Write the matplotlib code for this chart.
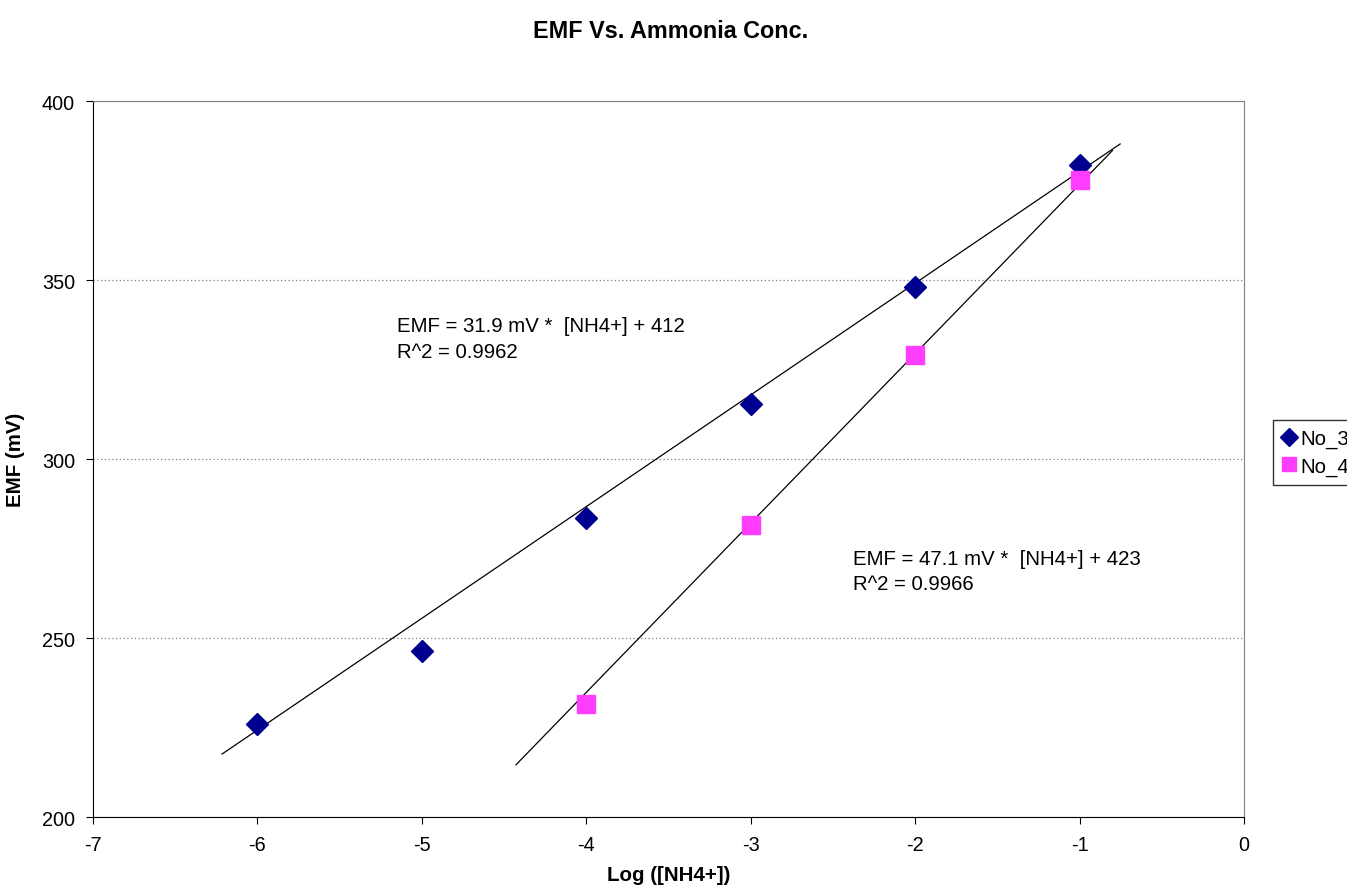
import numpy as np
import matplotlib.pyplot as plt

plt.rcParams['font.family'] = ['Liberation Sans', 'DejaVu Sans']
plt.rcParams['axes.unicode_minus'] = False

# Data ----------
log_conc_3 = [-6, -5, -4, -3, -2, -1]
emf_3 = [226, 246.5, 283.5, 315.5, 348, 382]

log_conc_4 = [-4, -3, -2, -1]
emf_4 = [231.5, 281.5, 329, 378]

# trendlines as drawn in the chart (slope, intercept, x range)
trend_3 = (31.2, 411.5)
trend_3_range = (-6.215, -0.753)
trend_4 = (47.3, 424.0)
trend_4_range = (-4.427, -0.80)

label_3 = "EMF = 31.9 mV *  [NH4+] + 412\nR^2 = 0.9962"
label_4 = "EMF = 47.1 mV *  [NH4+] + 423\nR^2 = 0.9966"

# Plot ----------
fig = plt.figure(figsize=(13.47, 8.95), dpi=100)
ax = fig.add_axes([0.069, 0.086, 0.8545, 0.80])

ax.set_xlim(-7, 0)
ax.set_ylim(200, 400)
ax.set_xticks(range(-7, 1))
ax.set_yticks([200, 250, 300, 350, 400])
ax.grid(axis='y', linestyle=(0, (1, 2)), color='#808080', linewidth=0.9)
ax.set_axisbelow(True)

for s in ['top', 'right']:
    ax.spines[s].set_color('#808080')
for s in ['left', 'bottom']:
    ax.spines[s].set_color('black')

for (m, b), (x0, x1) in [(trend_3, trend_3_range), (trend_4, trend_4_range)]:
    xs = np.array([x0, x1])
    ax.plot(xs, m * xs + b, color='black', linewidth=0.9, zorder=2)

ax.plot(log_conc_3, emf_3, linestyle='none', marker='D', markersize=11.5,
        color='#000090', label='No_3', zorder=3)
ax.plot(log_conc_4, emf_4, linestyle='none', marker='s', markersize=12.5,
        color='#ff3dff', label='No_4', zorder=3)

ax.text(-5.15, 340, label_3, fontsize=14.7, va='top', ha='left', linespacing=1.45)
ax.text(-2.377, 275, label_4, fontsize=14.7, va='top', ha='left', linespacing=1.45)

ax.tick_params(direction='out', length=5, labelsize=14.3, pad=8)
ax.set_xlabel("Log ([NH4+])", fontsize=14.8, fontweight='bold', labelpad=8)
ax.set_ylabel("EMF (mV)", fontsize=14.8, fontweight='bold', labelpad=12)
fig.suptitle("EMF Vs. Ammonia Conc.", fontsize=16.8, fontweight='bold',
             x=0.4975, y=0.978)

fig.legend(loc='upper left', bbox_to_anchor=(1273 / 1347, 1 - 421 / 895),
           borderaxespad=0, fontsize=14.7, frameon=True, fancybox=False,
           edgecolor='black', handlelength=0.7, handletextpad=0.2,
           borderpad=0.45, labelspacing=0.4, markerscale=0.8)

plt.savefig("out.png", dpi=100)
